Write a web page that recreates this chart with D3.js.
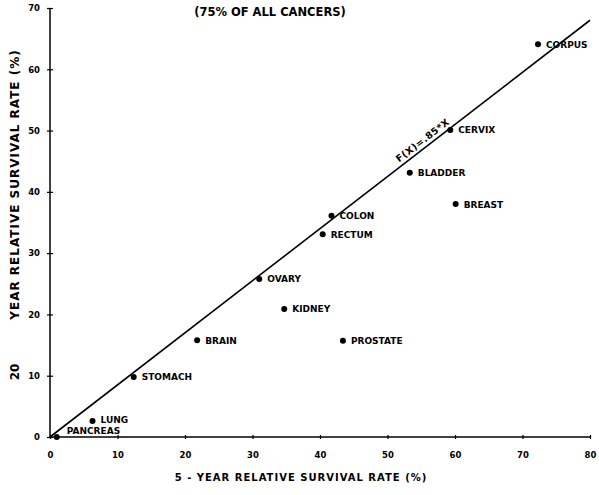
<!DOCTYPE html>
<html><head><meta charset="utf-8">
<script src="https://cdn.jsdelivr.net/npm/d3@7"></script>
<style>
html,body{margin:0;padding:0;background:#fff;}
text{font-family:"DejaVu Sans",sans-serif;font-weight:bold;fill:#000;}
</style></head>
<body>
<svg id="chart" width="599" height="495"></svg>
<script>
const cancers = ["CORPUS","CERVIX","BLADDER","BREAST","COLON","RECTUM","OVARY","KIDNEY","BRAIN","PROSTATE","STOMACH","LUNG","PANCREAS"];
const fiveYear = [72.3, 59.3, 53.3, 60.1, 41.7, 40.4, 31.0, 34.7, 21.8, 43.4, 12.4, 6.3, 1.0];
const twentyYear = [64.1, 50.1, 43.1, 38.0, 36.1, 33.1, 25.8, 20.9, 15.8, 15.7, 9.8, 2.6, 0.0];
const xTicks = [0,10,20,30,40,50,60,70,80];
const yTicks = [0,10,20,30,40,50,60,70];
const fitSlope = 0.85;
const fitLabel = "F(X)=.85*X";
const title = "(75% OF ALL CANCERS)";
const xTitle = "5 - YEAR RELATIVE SURVIVAL RATE (%)";
const yTitle = "YEAR RELATIVE SURVIVAL RATE (%)";
const yTitlePrefix = "20";

const svg = d3.select("#chart");
const x = d3.scaleLinear().domain([0,80]).range([50,590]);
const y = d3.scaleLinear().domain([0,70]).range([437,8]);

// axes
const gx = svg.append("g").attr("transform",`translate(0,${y(0)})`)
  .call(d3.axisBottom(x).tickValues(xTicks).tickSize(3).tickPadding(12).tickFormat(d3.format("d")));
gx.select(".domain").attr("stroke","#000").attr("stroke-width",1.5).attr("d",`M${x(0)},0H${x(80)}`);
gx.selectAll(".tick line").attr("y1",-2).attr("y2",2).attr("stroke-width",1.2);
gx.selectAll(".tick text").attr("font-size",8.5).style("font-family","'DejaVu Sans',sans-serif").style("font-weight","bold");

const gy = svg.append("g").attr("transform",`translate(${x(0)},0)`)
  .call(d3.axisLeft(y).tickValues(yTicks).tickSize(3).tickPadding(7).tickFormat(d3.format("d")));
gy.select(".domain").attr("stroke","#000").attr("stroke-width",1.5).attr("d",`M0,${y(0)}V${y(70)}`);
gy.selectAll(".tick line").attr("x1",-3).attr("x2",3).attr("stroke-width",1.2);
gy.selectAll(".tick text").attr("font-size",8.5).style("font-family","'DejaVu Sans',sans-serif").style("font-weight","bold");

// fit line
svg.append("line")
  .attr("x1",x(0)).attr("y1",y(0)).attr("x2",x(80)).attr("y2",y(80*fitSlope))
  .attr("stroke","#000").attr("stroke-width",1.6);
const lx = 55.5;
const ang = Math.atan2(y(fitSlope*lx+1*fitSlope)-y(fitSlope*lx), x(lx+1)-x(lx))*180/Math.PI;
svg.append("text")
  .attr("transform",`translate(${x(lx)},${y(fitSlope*lx)-5}) rotate(${ang})`)
  .attr("text-anchor","middle").attr("font-size",9.5).attr("letter-spacing",0.5).text(fitLabel);

// points
const pts = cancers.map((c,i)=>({name:c, x5:fiveYear[i], y20:twentyYear[i]}));
const labelOffset = {PANCREAS:[10,-3], LUNG:[8,2]};
svg.selectAll("circle.pt").data(pts).join("circle").attr("class","pt")
  .attr("cx",d=>x(d.x5)).attr("cy",d=>y(d.y20)).attr("r",3).attr("fill","#000");
svg.selectAll("text.lbl").data(pts).join("text").attr("class","lbl")
  .attr("x",d=>x(d.x5)+(labelOffset[d.name]?labelOffset[d.name][0]:8))
  .attr("y",d=>y(d.y20)+(labelOffset[d.name]?labelOffset[d.name][1]:3.5))
  .attr("font-size",9).text(d=>d.name);

// titles
svg.append("text").attr("x",270).attr("y",16).attr("text-anchor","middle").attr("font-size",11.5).text(title);
svg.append("text").attr("x",301).attr("y",481).attr("text-anchor","middle").attr("font-size",10).attr("letter-spacing",1).text(xTitle);
svg.append("text").attr("transform",`translate(19,${(y(0)+y(70))/2-38}) rotate(-90)`)
  .attr("text-anchor","middle").attr("font-size",12).attr("letter-spacing",1).text(yTitle);
svg.append("text").attr("transform",`translate(19,372) rotate(-90)`)
  .attr("text-anchor","middle").attr("font-size",12).text(yTitlePrefix);
</script>
</body></html>
